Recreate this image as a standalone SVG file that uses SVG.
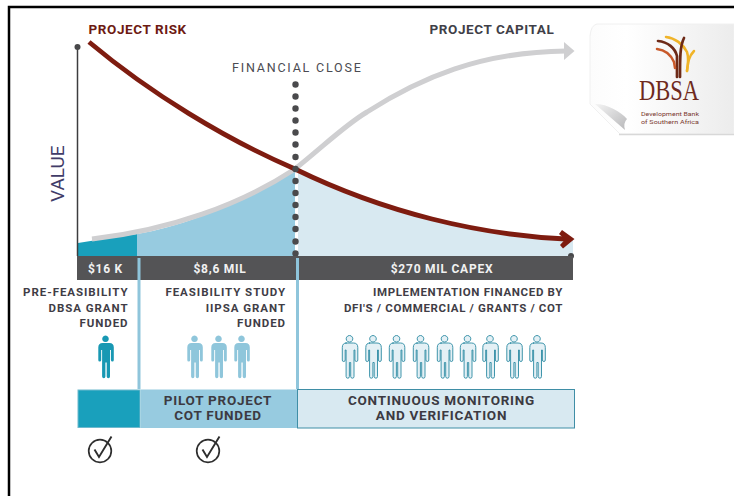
<svg xmlns="http://www.w3.org/2000/svg" width="734" height="496" viewBox="0 0 734 496">
<style>
text{font-family:Roboto,"Liberation Sans",sans-serif}
.h{font-weight:700;font-size:13.5px;letter-spacing:.58px}
.l{font-weight:700;font-size:11.5px;letter-spacing:.65px;fill:#3f3d46;text-anchor:end}
.lw{letter-spacing:.95px}
.b{font-weight:700;font-size:12px;letter-spacing:.75px;fill:#f1f1f1;text-anchor:middle}
.t{font-weight:700;font-size:13.5px;letter-spacing:.75px;fill:#3c3a42;text-anchor:middle}
.sep{fill:#8fc5db}
.chk{fill:none;stroke:#2e2e2e}
</style>
<defs>
<linearGradient id="sheet" x1="0" x2="1" y1="0" y2="0"><stop offset="0" stop-color="#fcfcfc"/><stop offset=".25" stop-color="#fff"/><stop offset="1" stop-color="#ececec"/></linearGradient>
<linearGradient id="curl" x1="0" x2="1" y1="0" y2="1"><stop offset="0" stop-color="#f4f4f4"/><stop offset="1" stop-color="#b8b8ba"/></linearGradient>
<path id="man" d="M0 0a3.300 3.300 0 1 1-.01 0zM-4 7.500h8q4.300 0 4.300 4.500v12.500q0 1.500-1.400 1.500t-1.500-1.500v-10h-.9v26.500q0 1.700-1.600 1.700t-1.700-1.700v-14h-1.300v14q0 1.700-1.600 1.700t-1.700-1.700v-26.500h-.9v10q0 1.500-1.500 1.500t-1.400-1.500v-12.500q0-4.500 4.300-4.500z"/>
<g id="check"><circle cx="0" cy="1.500" r="11.300" class="chk" stroke-width="1.700"/><path d="M-5.500 0 -1 7.500 11.500-13" class="chk" stroke-width="1.900"/></g>
</defs>
<rect width="734" height="496" fill="#fff"/>
<path d="M9 496V7H734" fill="none" stroke="#000" stroke-width="2.500"/>

<g id="areas">
<path d="M78 243Q108 238 137 234V256H78z" fill="#19a0bc"/>
<path d="M137 234C195 224 250 197 295 169V256H137z" fill="#97cbe0"/>
<path d="M298 171C385 213 480 232 573 240V256H298z" fill="#d8e9f1"/>
</g>

<g id="connectors">
<path d="M77.500 47V256" stroke="#3d3d3f" stroke-width="1.500" fill="none"/>
<circle cx="77.500" cy="47" r="3" fill="#48484a"/>
<path d="M92 239C170 230 240 205 295 169C325 145 345 125 367 112C420 78 480 52 566 51" fill="none" stroke="#cfcfd1" stroke-width="5"/>
<path d="M564 42 574.500 51 564 60z" fill="#cfcfd1"/>
<path d="M89 42C150 93 225 139 295 169C385 213 480 235 566 239" fill="none" stroke="#7e1c10" stroke-width="4.800"/>
<path d="M562 230 574.500 239 563 248.500 560 245 565 239.500 559 234z" fill="#7e1c10"/>
<g id="close-dots" fill="#4a4a4c"><circle cx="295.500" cy="84.500" r="3.200"/><circle cx="295.500" cy="96.500" r="3.200"/><circle cx="295.500" cy="108.500" r="3.200"/><circle cx="295.500" cy="120.500" r="3.200"/><circle cx="295.500" cy="132.500" r="3.200"/><circle cx="295.500" cy="144.500" r="3.200"/><circle cx="295.500" cy="157" r="3.200"/><circle cx="295.500" cy="169" r="3.200"/><circle cx="295.500" cy="181" r="3.200"/><circle cx="295.500" cy="193" r="3.200"/><circle cx="295.500" cy="205" r="3.200"/><circle cx="295.500" cy="217" r="3.200"/><circle cx="295.500" cy="229" r="3.200"/><circle cx="295.500" cy="241.500" r="3.200"/><circle cx="295.500" cy="253.500" r="3.200"/></g>
<circle cx="571" cy="256" r="3" fill="#48484a"/>
</g>

<g id="bar">
<rect x="77" y="256" width="496" height="24" fill="#545456"/>
<text class="b" x="105.500" y="272.500">$16 K</text>
<text class="b" x="220" y="272.500">$8,6 MIL</text>
<text class="b" x="442" y="272.500">$270 MIL CAPEX</text>
</g>
<rect class="sep" x="137.500" y="258" width="3" height="131"/>
<rect class="sep" x="296" y="258" width="3" height="131"/>

<g id="labels">
<text class="h" x="88.500" y="34" fill="#6d1a12">PROJECT RISK</text>
<text class="h" x="429.500" y="34" fill="#3f3f48">PROJECT CAPITAL</text>
<text x="232" y="72" font-size="12.500" letter-spacing="1.800" fill="#4b4b52">FINANCIAL CLOSE</text>
<text transform="translate(63.500 202) rotate(-90)" font-size="19" fill="#413c68">VALUE</text>
</g>

<g id="node-prefeasibility">
<text class="l lw" x="128.500" y="296">PRE-FEASIBILITY</text>
<text class="l lw" x="128.500" y="311.500">DBSA GRANT</text>
<text class="l lw" x="128.500" y="327">FUNDED</text>
<use href="#man" x="105.500" y="335.500" fill="#1898b3"/>
</g>
<g id="node-feasibility">
<text class="l lw" x="286" y="296">FEASIBILITY STUDY</text>
<text class="l lw" x="286" y="311.500">IIPSA GRANT</text>
<text class="l lw" x="286" y="326.500">FUNDED</text>
<g fill="#8fc6db"><use href="#man" x="194.500" y="335.500"/><use href="#man" x="218.500" y="335.500"/><use href="#man" x="241.500" y="335.500"/></g>
</g>
<g id="node-implementation">
<text class="l" x="563" y="296">IMPLEMENTATION FINANCED BY</text>
<text class="l" x="563" y="311.500">DFI'S / COMMERCIAL / GRANTS / COT</text>
<g fill="#e4f0f5" stroke="#2b8aa3" stroke-width=".9"><use href="#man" x="349.500" y="335.500"/><use href="#man" x="373" y="335.500"/><use href="#man" x="396.500" y="335.500"/><use href="#man" x="420.500" y="335.500"/><use href="#man" x="444.500" y="335.500"/><use href="#man" x="467.500" y="335.500"/><use href="#man" x="490" y="335.500"/><use href="#man" x="514" y="335.500"/><use href="#man" x="537" y="335.500"/></g>
</g>

<g id="node-teal"><rect x="78" y="390" width="62" height="37.500" fill="#19a0bc" stroke="#6fb9cd"/></g>
<g id="node-pilot"><rect x="140.500" y="389.500" width="156.500" height="38.500" fill="#97cbe0"/>
<text class="t" x="218" y="405">PILOT PROJECT</text><text class="t" x="218" y="420">COT FUNDED</text></g>
<g id="node-monitoring"><rect x="297.500" y="389.500" width="277" height="38.500" fill="#d8e9f1" stroke="#3f8ea6"/>
<text class="t" x="441.500" y="405">CONTINUOUS MONITORING</text><text class="t" x="441.500" y="420">AND VERIFICATION</text></g>

<use id="check-1" href="#check" x="100" y="449.500"/>
<use id="check-2" href="#check" x="208" y="449.500"/>

<g id="logo">
<path d="M734 24H597Q591 25 590 36V104L620 134H734z" fill="url(#sheet)" stroke="#f0f0f0"/>
<path d="M619 134.500H734" stroke="#d8d8d8" stroke-width="1.500"/>
<path d="M595 104C608 104 621 112 627 119Q623 123 625 130z" fill="url(#curl)"/>
<g fill="none" stroke-linecap="round">
<path d="M666 37C675 38 683 44 687 52C689 58 688 65 687 71" stroke="#f0b429" stroke-width="2.500"/>
<path d="M694 51C689 56 688 62 687 71" stroke="#f0b429" stroke-width="2.500"/>
<path d="M658 41C668 42 675 48 677 56V77" stroke="#6d2a17" stroke-width="2.700"/>
<path d="M657 49C665 50 671 55 674 62L675 68" stroke="#c8592a" stroke-width="2.500"/>
<path d="M684 38C680 46 680 58 680 77" stroke="#6d2a17" stroke-width="2.700"/>
</g>
<text x="639" y="100" font-size="29" textLength="60" lengthAdjust="spacingAndGlyphs" style="font-family:'Liberation Serif',serif" fill="#6f2a1d">DBSA</text>
<text x="641" y="115.500" font-size="6.200" fill="#7b3a30" textLength="58" lengthAdjust="spacingAndGlyphs">Development Bank</text>
<text x="641" y="123.500" font-size="6.200" fill="#7b3a30" textLength="58" lengthAdjust="spacingAndGlyphs">of Southern Africa</text>
</g>
</svg>
